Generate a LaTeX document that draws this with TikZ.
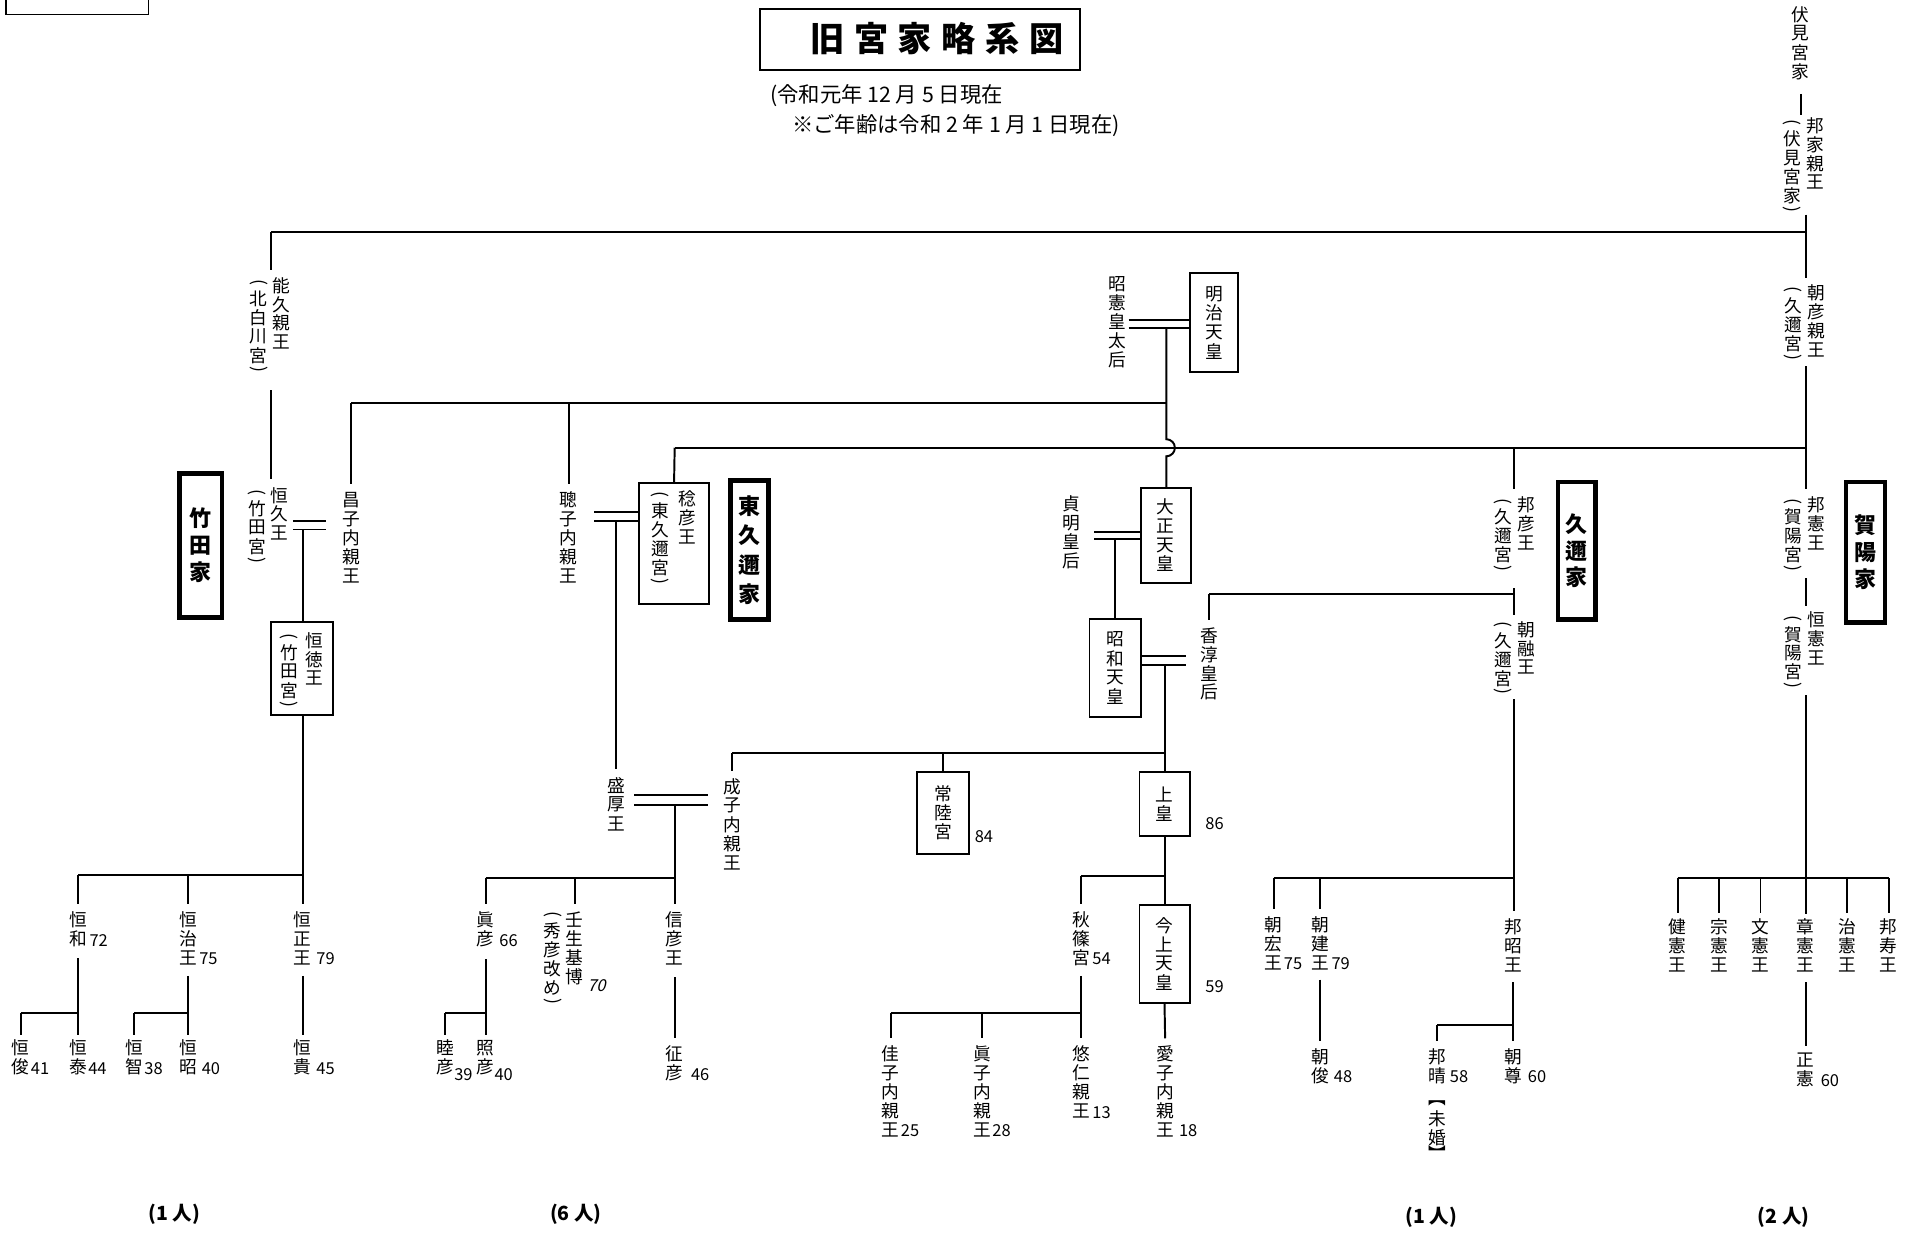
\documentclass[tikz,border=0pt]{standalone}
\usepackage{fontspec}
\usepackage{graphicx}
\setmainfont{Noto Sans CJK JP}
\newdimen\Vh \Vh=15.5pt
\newdimen\Vph \Vph=9pt
\newdimen\Vw \Vw=16pt
\makeatletter
\def\V@end{}
\newcommand\V[1]{\vbox{\offinterlineskip\V@loop#1\V@end}}
\def\V@loop#1{\ifx#1\V@end\else\V@item#1\expandafter\V@loop\fi}
\def\V@item#1{\ifx#1(\V@rot{(}\else\ifx#1)\V@rot{)}\else\ifx#1︻\V@small{︻}\else\ifx#1︼\V@small{︼}\else\V@char{#1}\fi\fi\fi\fi}
\def\V@char#1{\hbox to\Vw{\hss\vbox to\Vh{\vss\hbox{#1}\vss}\hss}}
\def\V@rot#1{\hbox to\Vw{\hss\vbox to\Vph{\vss\hbox{\rotatebox[origin=c]{-90}{#1}}\vss}\hss}}
\def\V@small#1{\hbox to\Vw{\hss\vbox to\Vph{\vss\hbox{#1}\vss}\hss}}
\makeatother
\newcommand\setVh[1]{\Vh=#1\relax}
\tikzset{
  ln/.style={line width=1.6pt},
  vt/.style={inner sep=0pt, anchor=north, font=\fontsize{14.5}{14.5}\selectfont},
  num/.style={inner sep=0pt, anchor=base west, font=\fontsize{13.5}{13.5}\selectfont},
  pbox/.style={draw, line width=1.6pt, inner sep=0pt, font=\fontsize{14.5}{14.5}\selectfont},
  house/.style={draw, line width=3.8pt, inner sep=0pt, font={\bfseries\fontsize{18}{18}\selectfont\setVh{22pt}}},
  count/.style={inner sep=0pt, font=\bfseries\fontsize{16}{16}\selectfont},
}
\begin{document}
\begin{tikzpicture}[x=1pt,y=-1pt]
\useasboundingbox[fill=white] (0,0) rectangle (1568,1013);
% corner box (cut off)
\draw[line width=1pt] (5,-6) -- (5,12) -- (122,12) -- (122,-6);
% title
\node[draw, line width=1.6pt, minimum width=262, minimum height=50, inner sep=0pt] (titlebox) at (754,32) {};
\node[inner sep=0pt, font=\bfseries\fontsize{28}{28}\selectfont] (title) at (768,32)
  {旧\kern8pt 宮\kern8pt 家\kern8pt 略\kern8pt 系\kern8pt 図};
\node[anchor=west, inner sep=0pt, font=\fontsize{17.5}{17.5}\selectfont] (sub1) at (631,78) {(令和元年 12 月 5 日現在};
\node[anchor=west, inner sep=0pt, font=\fontsize{17.5}{17.5}\selectfont] (sub2) at (649,103) {※ご年齢は令和 2 年 1 月 1 日現在)};

% ---------- top (Fushimi) ----------
\node[vt] (fushimike) at (1476,4) {\V{伏見宮家}};
\node[vt] (kuniie) at (1488,95) {\V{邦家親王}};
\node[vt] (kuniieP) at (1469,97) {\V{(伏見宮家)}};
\draw[ln] (1476,77) -- (1476,94);
\coordinate (topL) at (222,190);
\coordinate (topR) at (1480,190);
\draw[ln] (1480,176) -- (1480,228);
\draw[ln] (topL) -- (topR);
\draw[ln] (topL) -- (222,221);

% ---------- Takeda ----------
\node[vt] (nokuhisa) at (231,226) {\V{能久親王}};
\node[vt] (nokuhisaP) at (212,228) {\V{(北白川宮)}};
\draw[ln] (222,320) -- (222,393);
\node[vt] (tsunehisa) at (229,398) {\V{恒久王}};
\node[vt] (tsunehisaP) at (211,400) {\V{(竹田宮)}};
\node[house, minimum width=35, minimum height=118] (takedake) at (164.5,447) {\V{竹田家}};
\node[vt] (masako) at (288,402) {\V{昌子内親王}};
\node[pbox, minimum width=51, minimum height=76] (tsunenori) at (247.5,548) {};
\node[vt] (tsunenoriN) at (258,517) {\V{恒徳王}};
\node[vt] (tsunenoriP) at (237,518) {\V{(竹田宮)}};
\draw[ln] (240,427) -- (267,427);
\draw[ln] (240,434) -- (267,434);
\draw[ln] (248,434) -- (tsunenori.north -| 248,0);
\draw[ln] (tsunenori.south -| 248,0) -- (248,741);
\coordinate (tb) at (248,717);
\draw[ln] (64,717) -- (tb);
\node[vt] (kazu) at (64,746) {\V{恒和}};
\node[num] at ([xshift=1pt,yshift=2pt]kazu.south east) {72};
\node[vt] (haru) at (154,746) {\V{恒治王}};
\node[num] at ([xshift=1pt,yshift=2pt]haru.south east) {75};
\node[vt] (tsunemasa) at (248,746) {\V{恒正王}};
\node[num] at ([xshift=3pt,yshift=2pt]tsunemasa.south east) {79};
\draw[ln] (64,717) -- ([yshift=5pt]kazu.north);
\draw[ln] (154,717) -- ([yshift=5pt]haru.north);
\draw[ln] ([yshift=-8pt]kazu.south) -- (64,848);
\draw[ln] (17,830) -- (64,830);
\node[vt] (toshi) at (17,851) {\V{恒俊}};
\node[num] at ([xshift=0pt,yshift=2pt]toshi.south east) {41};
\node[vt] (yasu) at (64,851) {\V{恒泰}};
\node[num] at ([xshift=0pt,yshift=2pt]yasu.south east) {44};
\draw[ln] (17,830) -- ([yshift=3pt]toshi.north);
\draw[ln] ([yshift=-7pt]haru.south) -- (154,848);
\draw[ln] (110,830) -- (154,830);
\node[vt] (tomo) at (110,851) {\V{恒智}};
\node[num] at ([xshift=0pt,yshift=2pt]tomo.south east) {38};
\node[vt] (akiT) at (154,851) {\V{恒昭}};
\node[num] at ([xshift=3pt,yshift=2pt]akiT.south east) {40};
\draw[ln] (110,830) -- ([yshift=3pt]tomo.north);
\draw[ln] ([yshift=-7pt]tsunemasa.south) -- (248,848);
\node[vt] (takaT) at (248,851) {\V{恒貴}};
\node[num] at ([xshift=3pt,yshift=2pt]takaT.south east) {45};

% ---------- Meiji ----------
\node[pbox, minimum width=40, minimum height=81] (meiji) at (995,264.5) {\V{明治天皇}};
\node[vt] (shoken) at (916,225) {\V{昭憲皇太后}};
\draw[ln] (925,262) -- (meiji.west |- 0,262);
\draw[ln] (925,269) -- (meiji.west |- 0,269);
\coordinate (mj) at (956,330);
\draw[ln] (288,330) -- (mj);
\draw[ln] (288,330) -- ([yshift=5pt]masako.north);
\draw[ln] (466,330) -- (466,397);
\node[vt] (satoko) at (466,402) {\V{聰子内親王}};
\coordinate (hr) at (1480,367);
\draw[ln] (553,367) -- (hr);
\draw[ln] (956,269) -- (956,360) arc[start angle=-90, end angle=90, radius=7] -- (956,400);
\node[pbox, minimum width=41, minimum height=78] (taisho) at (955.5,439) {\V{大正天皇}};
\node[vt] (teimei) at (878,405) {\V{貞明皇后}};
\draw[ln] (897,436) -- (taisho.west |- 0,436);
\draw[ln] (897,442) -- (taisho.west |- 0,442);
\node[pbox, minimum width=42, minimum height=81] (showa) at (914,547.5) {\V{昭和天皇}};
\draw[ln] (914,442) -- (showa.north);
\node[vt] (kojun) at (991,513) {\V{香淳皇后}};
\draw[ln] (showa.east |- 0,538) -- (972,538);
\draw[ln] (showa.east |- 0,545) -- (972,545);
\node[pbox, minimum width=41, minimum height=52] (jokou) at (954.5,659) {\V{上皇}};
\node[num] at ([xshift=12pt,yshift=6pt]jokou.south east) {86};
\draw[ln] (954.5,545) -- (jokou.north);
\coordinate (sj) at (954.5,617);
\draw[ln] (600,617) -- (sj);
\draw[ln] (600,617) -- (600,632);
\node[pbox, minimum width=42, minimum height=67] (hitachi) at (773,666.5) {\V{常陸宮}};
\node[num] at ([xshift=4pt,yshift=10pt]hitachi.south east) {84};
\draw[ln] (773,617) -- (hitachi.north);
\node[pbox, minimum width=41, minimum height=80] (kinjo) at (954.5,782) {\V{今上天皇}};
\node[num] at ([xshift=12pt,yshift=9pt]kinjo.south east) {59};
\draw[ln] (jokou.south) -- (kinjo.north);
\draw[ln] (886,718) -- (954.5,718);
\node[vt] (akishino) at (886,746) {\V{秋篠宮}};
\node[num] at ([xshift=1pt,yshift=2pt]akishino.south east) {54};
\draw[ln] (886,718) -- ([yshift=5pt]akishino.north);
\node[vt] (aiko) at (955,856) {\V{愛子内親王}};
\node[num] at ([xshift=3pt,yshift=2pt]aiko.south east) {18};
\draw[ln] (kinjo.south) -- ([yshift=5pt]aiko.north);
\draw[ln] ([yshift=-7pt]akishino.south) -- ([yshift=5pt]886,856);
\draw[ln] (730,830) -- (886,830);
\node[vt] (kako) at (730,856) {\V{佳子内親王}};
\node[num] at ([xshift=0pt,yshift=2pt]kako.south east) {25};
\node[vt] (mako) at (805,856) {\V{眞子内親王}};
\node[num] at ([xshift=0pt,yshift=2pt]mako.south east) {28};
\node[vt] (hisahito) at (886,856) {\V{悠仁親王}};
\node[num] at ([xshift=1pt,yshift=2pt]hisahito.south east) {13};
\draw[ln] (730,830) -- ([yshift=5pt]kako.north);
\draw[ln] (805,830) -- ([yshift=5pt]mako.north);

% ---------- Higashikuni ----------
\node[pbox, minimum width=57, minimum height=99] (naruhiko) at (552.5,445.5) {};
\node[vt] (naruhikoN) at (563,401) {\V{稔彦王}};
\node[vt] (naruhikoP) at (541,402) {\V{(東久邇宮)}};
\draw[ln] (553,367) -- (naruhiko.north);
\node[house, minimum width=31, minimum height=114, font={\bfseries\fontsize{18}{18}\selectfont\setVh{24pt}}] (higashikunike) at (614.5,451) {\V{東久邇家}};
\draw[ln] (487,420) -- (naruhiko.west |- 0,420);
\draw[ln] (487,427) -- (naruhiko.west |- 0,427);
\draw[ln] (505,427) -- (505,630);
\node[vt] (morihiro) at (505,636) {\V{盛厚王}};
\node[vt] (shigeko) at (600,637) {\V{成子内親王}};
\draw[ln] (520,652) -- (580,652);
\draw[ln] (520,660) -- (580,660);
\coordinate (hb) at (553,720);
\draw[ln] (553,660) -- (553,741);
\draw[ln] (398,720) -- (hb);
\node[vt] (masahiko) at (398,746) {\V{眞彦}};
\node[num] at ([xshift=3pt,yshift=2pt]masahiko.south east) {66};
\node[vt] (mibu) at (471,746) {\V{壬生基博}};
\node[vt] (mibuP) at (453,746) {\V{(秀彦改め)}};
\node[num, font=\fontsize{13.5}{13.5}\selectfont\addfontfeature{FakeSlant=0.25}] at ([xshift=2pt,yshift=-4pt]mibu.south east) {70};
\node[vt] (nobuhiko) at (553,746) {\V{信彦王}};
\draw[ln] (398,720) -- ([yshift=5pt]masahiko.north);
\draw[ln] (471,720) -- ([yshift=5pt]mibu.north);
\draw[ln] ([yshift=-9pt]masahiko.south) -- (398,848);
\draw[ln] (365,830) -- (398,830);
\node[vt] (mutsuhiko) at (365,851) {\V{睦彦}};
\node[num] at ([xshift=-1pt,yshift=-3pt]mutsuhiko.south east) {39};
\node[vt] (teruhiko) at (398,851) {\V{照彦}};
\node[num] at ([xshift=-1pt,yshift=-3pt]teruhiko.south east) {40};
\draw[ln] (365,830) -- ([yshift=3pt]mutsuhiko.north);
\draw[ln] ([yshift=-8pt]nobuhiko.south) -- (553,851);
\node[vt] (yukihiko) at (553,856) {\V{征彦}};
\node[num] at ([xshift=5pt,yshift=2pt]yukihiko.south east) {46};

% ---------- Kuni ----------
\node[vt] (kunihiko) at (1251,406) {\V{邦彦王}};
\node[vt] (kunihikoP) at (1232,407) {\V{(久邇宮)}};
\draw[ln] (1241,367) -- (1241,401);
\draw[ln] (1241,482) -- (1241,504);
\draw[ln] (991,487) -- (1241,487);
\draw[ln] (991,487) -- ([yshift=5pt]kojun.north);
\node[house, minimum width=31, minimum height=113] (kunike) at (1292.5,451.5) {\V{久邇家}};
\node[vt] (asaakira) at (1251,508) {\V{朝融王}};
\node[vt] (asaakiraP) at (1232,508) {\V{(久邇宮)}};
\draw[ln] (1241,573) -- (1241,747);
\draw[ln] (1044,720) -- (1241,720);
\node[vt] (asahiro) at (1044,750) {\V{朝宏王}};
\node[num] at ([xshift=0pt,yshift=2pt]asahiro.south east) {75};
\node[vt] (asatake) at (1082,750) {\V{朝建王}};
\node[num] at ([xshift=1pt,yshift=2pt]asatake.south east) {79};
\node[vt] (kuniaki) at (1240,752) {\V{邦昭王}};
\draw[ln] (1044,720) -- ([yshift=5pt]asahiro.north);
\draw[ln] (1082,720) -- ([yshift=5pt]asatake.north);
\draw[ln] ([yshift=-6pt]asatake.south) -- (1082,853);
\node[vt] (asatoshi) at (1082,858) {\V{朝俊}};
\node[num] at ([xshift=3pt,yshift=2pt]asatoshi.south east) {48};
\draw[ln] ([yshift=-6pt]kuniaki.south) -- (1240,853);
\draw[ln] (1178,840) -- (1240,840);
\node[vt] (kuniharu) at (1178,858) {\V{邦晴}};
\node[num] at ([xshift=2pt,yshift=2pt]kuniharu.south east) {58};
\node[vt] (mikon) at (1178,900) {\V{︻未婚︼}};
\node[vt] (asataka) at (1240,858) {\V{朝尊}};
\node[num] at ([xshift=4pt,yshift=2pt]asataka.south east) {60};
\draw[ln] (1178,840) -- ([yshift=5pt]kuniharu.north);

% ---------- Kaya ----------
\node[vt] (asahiko) at (1489,232) {\V{朝彦親王}};
\node[vt] (asahikoP) at (1470,234) {\V{(久邇宮)}};
\draw[ln] (1480,300) -- (1480,401);
\node[vt] (kuninori) at (1489,406) {\V{邦憲王}};
\node[vt] (kuninoriP) at (1470,407) {\V{(賀陽宮)}};
\draw[ln] (1480,474) -- (1480,497);
\node[vt] (tsunenoriK) at (1489,500) {\V{恒憲王}};
\node[vt] (tsunenoriKP) at (1470,503) {\V{(賀陽宮)}};
\draw[ln] (1480,570) -- (1480,749);
\node[house, minimum width=32, minimum height=115] (kayake) at (1529,452.5) {\V{賀陽家}};
\draw[ln] (1375,720) -- (1548,720);
\node[vt] (takenori) at (1375,752) {\V{健憲王}};
\node[vt] (munenori) at (1409,752) {\V{宗憲王}};
\node[vt] (fuminori) at (1443,752) {\V{文憲王}};
\node[vt] (akinori) at (1480,752) {\V{章憲王}};
\node[vt] (harunori) at (1514,752) {\V{治憲王}};
\node[vt] (kuninaga) at (1548,752) {\V{邦寿王}};
\draw[ln] (1375,720) -- ([yshift=4pt]takenori.north);
\draw[ln] (1409,720) -- ([yshift=4pt]munenori.north);
\draw[ln] (1443,720) -- ([yshift=4pt]fuminori.north);
\draw[ln] (1514,720) -- ([yshift=4pt]harunori.north);
\draw[ln] (1548,720) -- ([yshift=4pt]kuninaga.north);
\draw[ln] ([yshift=-6pt]akinori.south) -- (1480,857);
\node[vt] (masanori) at (1480,861) {\V{正憲}};
\node[num] at ([xshift=4pt,yshift=2pt]masanori.south east) {60};

% ---------- counts ----------
\node[count] (c1) at (143,995) {(1 人)};
\node[count] (c2) at (472,995) {(6 人)};
\node[count] (c3) at (1173,998) {(1 人)};
\node[count] (c4) at (1462,998) {(2 人)};
\end{tikzpicture}
\end{document}
